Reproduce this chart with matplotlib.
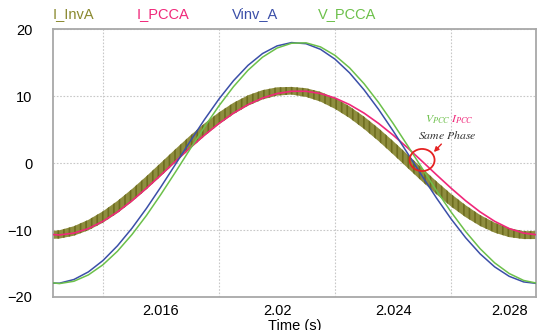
import numpy as np
import matplotlib
matplotlib.use("Agg")
import matplotlib.pyplot as plt
from matplotlib.patches import Ellipse

plt.rcParams["font.family"] = ["Liberation Sans", "DejaVu Sans"]
plt.rcParams["mathtext.fontset"] = "stix"
plt.rcParams["hatch.linewidth"] = 1.2

# time samples (s), every 0.5 ms
t = 2.0120 + 0.0005 * np.arange(35)

# Vinv_A (V)
vinv_a = [-17.91, -17.94, -17.39, -16.25, -14.56, -12.36, -9.74, -6.77, -3.55, -0.19,
          3.20, 6.49, 9.56, 12.29, 14.58, 16.34, 17.48, 17.98, 17.81, 16.97,
          15.50, 13.46, 10.92, 8.01, 4.80, 1.45, -1.94, -5.25, -8.35, -11.15,
          -13.56, -15.50, -16.91, -17.75, -18.00]

# V_PCCA (V)
v_pcca = [-17.74, -18.00, -17.65, -16.70, -15.19, -13.17, -10.68, -7.83, -4.67, -1.35,
          2.05, 5.38, 8.54, 11.40, 13.85, 15.80, 17.16, 17.88, 17.94, 17.33,
          16.06, 14.21, 11.84, 9.04, 5.92, 2.60, -0.78, -4.13, -7.32, -10.23,
          -12.79, -14.90, -16.49, -17.53, -17.98]

# I_PCCA (A)
i_pcca = [-10.61, -10.74, -10.46, -9.78, -8.70, -7.30, -5.63, -3.76, -1.77, 0.26,
          2.27, 4.17, 5.91, 7.45, 8.72, 9.70, 10.37, 10.71, 10.71, 10.37,
          9.70, 8.72, 7.45, 5.91, 4.17, 2.27, 0.26, -1.77, -3.76, -5.63,
          -7.30, -8.70, -9.78, -10.46, -10.74]

# I_InvA (A): mid value and half height of the switching ripple
i_inva = [-10.80, -10.66, -10.14, -9.26, -8.06, -6.57, -4.84, -2.95, -0.95, 1.08,
          3.08, 4.96, 6.67, 8.14, 9.33, 10.18, 10.68, 10.79, 10.52, 9.89,
          8.89, 7.59, 6.01, 4.23, 2.29, 0.27, -1.76, -3.72, -5.56, -7.19,
          -8.58, -9.65, -10.39, -10.76, -10.75]
i_inva_ripple = [0.56, 0.62, 0.71, 0.78, 0.85, 0.91, 0.95, 0.98, 1.00, 1.00,
                 0.98, 0.95, 0.90, 0.85, 0.78, 0.70, 0.62, 0.57, 0.65, 0.73,
                 0.81, 0.87, 0.92, 0.96, 0.99, 1.00, 0.99, 0.97, 0.94, 0.89,
                 0.82, 0.75, 0.67, 0.59, 0.60]

xticks = [2.016, 2.02, 2.024, 2.028]
xtick_labels = ["2.016", "2.02", "2.024", "2.028"]
yticks = [-20, -10, 0, 10, 20]

c_inv = "#8a892f"
c_ipcc = "#f0287a"
c_vinv = "#3b4fa8"
c_vpcc = "#6cc04a"

fig = plt.figure(figsize=(5.41, 3.30), dpi=100)
ax = fig.add_axes([0.098, 0.1, 0.893, 0.812])

mid = np.array(i_inva)
rip = np.array(i_inva_ripple)
ax.fill_between(t, mid - rip, mid + rip, facecolor="#8e8d3e", edgecolor="#6e6d20",
                hatch="|||", linewidth=0, zorder=2)
ax.plot(t, i_pcca, color=c_ipcc, lw=1.2, zorder=3)
ax.plot(t, vinv_a, color=c_vinv, lw=1.1, zorder=4)
ax.plot(t, v_pcca, color=c_vpcc, lw=1.1, zorder=5)

ax.set_xlim(2.01228, 2.02893)
ax.set_ylim(-20, 20)
ax.set_xticks(xticks)
ax.set_xticklabels(xtick_labels)
ax.set_xticks(np.arange(2.014, 2.0285, 0.002), minor=True)
ax.set_yticks(yticks)
ax.tick_params(which="both", length=0, labelsize=10.5)
ax.tick_params(axis="y", pad=15)
ax.tick_params(axis="x", pad=5)
ax.grid(True, which="minor", axis="x", color="#c8c8c8", ls=(0, (1.5, 1.5)), lw=0.8)
ax.grid(True, which="major", axis="y", color="#c8c8c8", ls=(0, (1.5, 1.5)), lw=0.8)
for s in ax.spines.values():
    s.set_color("#a8a8a8")
    s.set_linewidth(1.3)

# annotation: circle, arrow and label near the falling zero crossing
ax.add_patch(Ellipse((2.02500, 0.45), 0.00086, 3.3, fill=False,
                     edgecolor="#e52222", lw=1.3, zorder=6))
ax.annotate("", xy=(2.02534, 1.34), xytext=(2.02573, 3.13),
            arrowprops=dict(arrowstyle="-|>", color="#e52222", lw=1.0,
                            mutation_scale=7), zorder=6)
ax.text(2.02510, 6.5, r"$V_{PCC}$", color=c_vpcc, fontsize=8.5, ha="left", va="center")
ax.text(2.02600, 6.5, r"$I_{PCC}$", color=c_ipcc, fontsize=8.5, ha="left", va="center")
ax.text(2.02587, 4.1, r"$Same\ Phase$", color="#333333", fontsize=8.5,
        ha="center", va="center")

# legend labels above the plot
fig.text(53 / 541, 1 - 14 / 330, "I_InvA", color=c_inv, fontsize=10.5, va="center")
fig.text(137 / 541, 1 - 14 / 330, "I_PCCA", color=c_ipcc, fontsize=10.5, va="center")
fig.text(232 / 541, 1 - 14 / 330, "Vinv_A", color=c_vinv, fontsize=10.5, va="center")
fig.text(318 / 541, 1 - 14 / 330, "V_PCCA", color=c_vpcc, fontsize=10.5, va="center")

fig.text(295 / 541, 1 - 319 / 330, "Time (s)", fontsize=10.5, ha="center", va="top")

fig.savefig("out.png", dpi=100)
